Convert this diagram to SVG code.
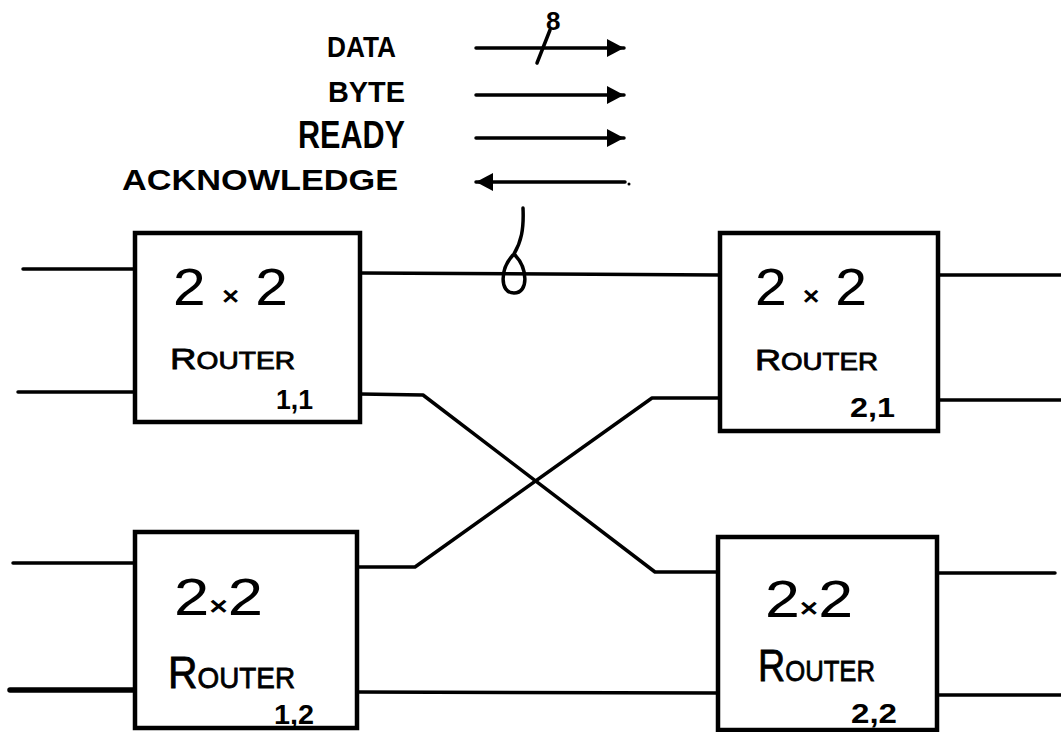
<svg xmlns="http://www.w3.org/2000/svg" width="1061" height="732" viewBox="0 0 1061 732">
<style>
.box{fill:#fff;stroke:#000;stroke-width:4.5}
.ln{fill:none;stroke:#000;stroke-width:3.5;stroke-linecap:round;stroke-linejoin:round}
.big{font-family:"Liberation Sans",Arial,sans-serif;font-size:52px;fill:#000}
.rt{font-family:"Liberation Sans",Arial,sans-serif;fill:#000;stroke:#000;stroke-width:0.8}
.idx{font-family:"Liberation Sans",Arial,sans-serif;font-size:28px;font-weight:bold;fill:#000}
.lg{font-family:"Liberation Sans",Arial,sans-serif;font-weight:bold;fill:#000}
</style>
<defs>
<marker id="ah" markerUnits="userSpaceOnUse" markerWidth="20" markerHeight="20" refX="17" refY="9" orient="auto">
<path d="M0,0 L17,9 L0,18 z" fill="#000"/>
</marker>
</defs>
<rect width="1061" height="732" fill="#fff"/>

<g id="legend">
<text class="lg" x="327" y="57" font-size="30" textLength="69" lengthAdjust="spacingAndGlyphs">DATA</text>
<text class="lg" x="328" y="102" font-size="30" textLength="77" lengthAdjust="spacingAndGlyphs">BYTE</text>
<text class="lg" x="298" y="148" font-size="38" textLength="107" lengthAdjust="spacingAndGlyphs" font-weight="normal">READY</text>
<text class="lg" x="122" y="190" font-size="30" textLength="276" lengthAdjust="spacingAndGlyphs">ACKNOWLEDGE</text>
<text class="lg" x="546" y="30" font-size="26" font-weight="normal">8</text>
</g>

<g id="connectors">
<line class="ln" x1="476" y1="48" x2="624" y2="48" marker-end="url(#ah)"/>
<line class="ln" x1="537" y1="63" x2="550" y2="30"/>
<line class="ln" x1="476" y1="95" x2="624" y2="95" marker-end="url(#ah)"/>
<line class="ln" x1="476" y1="138" x2="624" y2="138" marker-end="url(#ah)"/>
<line class="ln" x1="625" y1="182" x2="476" y2="182" marker-end="url(#ah)"/>
<circle cx="629" cy="184" r="1.5" fill="#000"/>

<line class="ln" x1="23" y1="269" x2="135" y2="269"/>
<line class="ln" x1="18" y1="392" x2="135" y2="392"/>
<line class="ln" x1="360" y1="273" x2="720" y2="275"/>
<path class="ln" d="M523,208 C524,230 521,242 514,254 C500,268 499,293 514,293 C529,293 528,268 514,254"/>
<polyline class="ln" points="360,394 423,395 655,572 718,572"/>
<polyline class="ln" points="357,567 415,567 652,398 720,398"/>
<line class="ln" x1="938" y1="275" x2="1061" y2="275"/>
<line class="ln" x1="938" y1="400" x2="1061" y2="400"/>
<line class="ln" x1="13" y1="563" x2="135" y2="563"/>
<line class="ln" x1="10" y1="690" x2="135" y2="690" style="stroke-width:5.5"/>
<line class="ln" x1="357" y1="692" x2="718" y2="693"/>
<line class="ln" x1="937" y1="573" x2="1055" y2="573"/>
<line class="ln" x1="937" y1="695" x2="1061" y2="695"/>
</g>

<g id="router11">
<rect class="box" x="135" y="233" width="225" height="189"/>
<text class="big" x="173" y="305" textLength="115" lengthAdjust="spacingAndGlyphs">2 <tspan font-size="26" font-weight="bold">×</tspan> 2</text>
<text class="rt" x="170" y="369" textLength="125" lengthAdjust="spacingAndGlyphs"><tspan font-size="30">R</tspan><tspan font-size="23">OUTER</tspan></text>
<text class="idx" x="276" y="409" textLength="37" lengthAdjust="spacingAndGlyphs">1,1</text>
</g>

<g id="router21">
<rect class="box" x="720" y="233" width="218" height="198"/>
<text class="big" x="755" y="305" textLength="112" lengthAdjust="spacingAndGlyphs">2 <tspan font-size="26" font-weight="bold">×</tspan> 2</text>
<text class="rt" x="755" y="370" textLength="123" lengthAdjust="spacingAndGlyphs"><tspan font-size="30">R</tspan><tspan font-size="23">OUTER</tspan></text>
<text class="idx" x="850" y="417" textLength="45" lengthAdjust="spacingAndGlyphs">2,1</text>
</g>

<g id="router12">
<rect class="box" x="135" y="532" width="222" height="196"/>
<text class="big" x="174" y="615" font-size="56" textLength="89" lengthAdjust="spacingAndGlyphs">2<tspan font-size="26" font-weight="bold">×</tspan>2</text>
<text class="rt" x="168" y="688" textLength="127" lengthAdjust="spacingAndGlyphs"><tspan font-size="44">R</tspan><tspan font-size="30">OUTER</tspan></text>
<text class="idx" x="274" y="724" font-size="30" textLength="40" lengthAdjust="spacingAndGlyphs">1,2</text>
</g>

<g id="router22">
<rect class="box" x="718" y="537" width="219" height="193"/>
<text class="big" x="765" y="617" font-size="56" textLength="88" lengthAdjust="spacingAndGlyphs">2<tspan font-size="26" font-weight="bold">×</tspan>2</text>
<text class="rt" x="758" y="681" textLength="117" lengthAdjust="spacingAndGlyphs"><tspan font-size="44">R</tspan><tspan font-size="30">OUTER</tspan></text>
<text class="idx" x="851" y="723" font-size="30" textLength="46" lengthAdjust="spacingAndGlyphs">2,2</text>
</g>
</svg>
